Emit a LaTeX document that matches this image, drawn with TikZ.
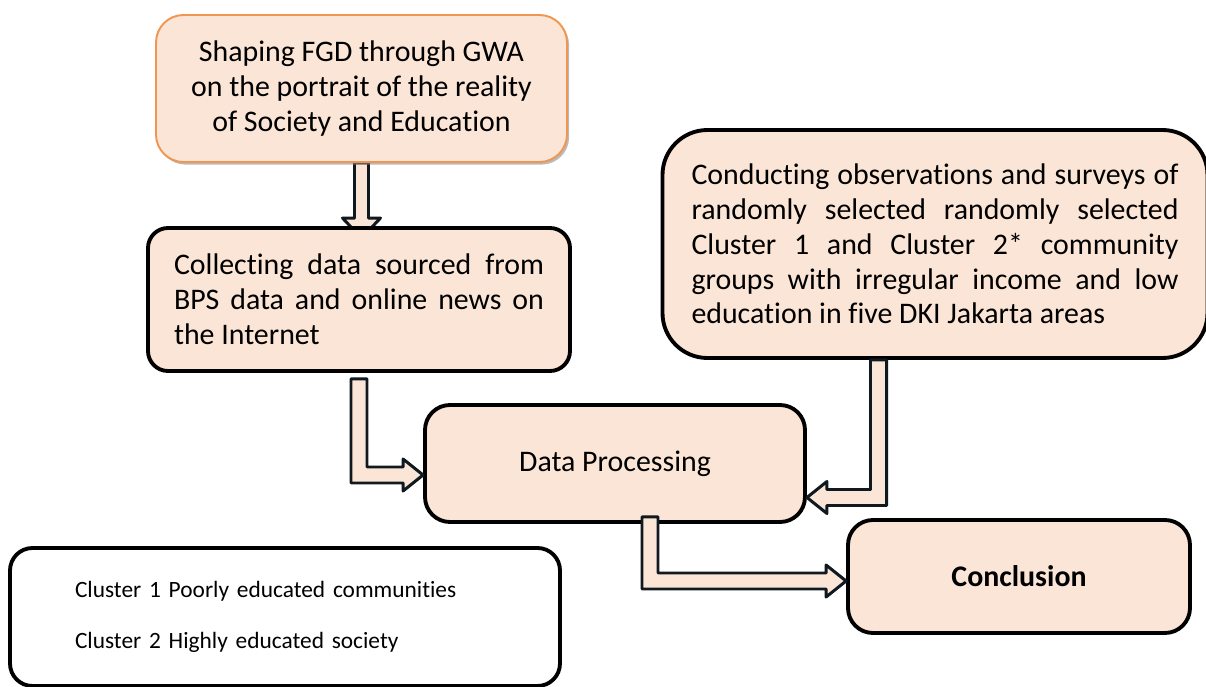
\documentclass[tikz,border=0pt]{standalone}
\usepackage{fontspec}
\setmainfont{Carlito}[Ligatures=NoCommon]
\usetikzlibrary{calc,shadows,backgrounds}

\definecolor{peach}{RGB}{251,229,214}
\definecolor{boxorange}{RGB}{240,150,80}
\definecolor{arrowline}{RGB}{16,24,32}
\hyphenpenalty=10000
\tolerance=9999
\hbadness=10000

\tikzset{
  box/.style={draw=black, line width=2.2pt, fill=peach, rounded corners=0.4cm,
    inner sep=0pt, font=\fontsize{17}{19.8}\selectfont},
  barrow/.style={draw=arrowline, line width=1.7pt, fill=peach, line join=round},
}

%% elbow block arrow: start, tip, 1 = right / -1 = left
\newcommand{\elbowarrow}[3]{%
  \draw[barrow] let \p1=(#1), \p2=(#2) in
    ({\x1-(#3)*0.16cm},\y1) -- ({\x1-(#3)*0.16cm},{\y2-0.16cm})
    -- ({\x2-(#3)*0.4cm},{\y2-0.16cm}) -- ({\x2-(#3)*0.4cm},{\y2-0.32cm})
    -- (\x2,\y2) -- ({\x2-(#3)*0.4cm},{\y2+0.32cm})
    -- ({\x2-(#3)*0.4cm},{\y2+0.16cm}) -- ({\x1+(#3)*0.16cm},{\y2+0.16cm})
    -- ({\x1+(#3)*0.16cm},\y1) -- cycle;
}

\begin{document}
\begin{tikzpicture}
\useasboundingbox (0,0) rectangle (24.12,-13.74);

%% boxes
\node[box, draw=boxorange, line width=1.1pt, rounded corners=0.55cm,
  minimum width=8.22cm, minimum height=2.94cm, align=center,
  drop shadow={shadow xshift=1.2pt, shadow yshift=-1.5pt, fill=black!45, opacity=0.6}]
  (shape) at (7.23,-1.77)
  {Shaping FGD through GWA\\on the portrait of the reality\\of Society and Education};
\node[box, minimum width=8.44cm, minimum height=2.86cm, text width=7.4cm, align=justify]
  (collect) at (7.18,-5.99)
  {Collecting data sourced from\linebreak BPS data and online news on\linebreak
   the Internet};
\node[box, rounded corners=0.9cm, minimum width=10.9cm, minimum height=4.56cm,
  text width=9.74cm, align=justify] (survey) at (18.7,-4.88)
  {Conducting observations and surveys of\linebreak
   randomly selected randomly selected\linebreak
   Cluster 1 and Cluster 2* community\linebreak
   groups with irregular income and low\linebreak
   education in five DKI Jakarta areas};
\node[box, rounded corners=0.5cm, minimum width=7.6cm, minimum height=2.34cm]
  (proc) at (12.3,-9.27) {Data Processing};
\node[box, rounded corners=0.5cm, minimum width=6.84cm, minimum height=2.26cm,
  font=\fontsize{17}{19.8}\selectfont\bfseries] (concl) at (20.38,-11.53) {Conclusion};
\node[box, fill=white, rounded corners=0.45cm, minimum width=11cm, minimum height=2.76cm,
  text width=8.4cm, align=left, font=\fontsize{13.3}{15}\selectfont]
  (legend) at (5.7,-12.34)
  {Cluster 1 Poorly educated communities\\[0.5cm]Cluster 2 Highly educated society};

%% arrows
\begin{scope}[on background layer]
\draw[barrow] let \p1=(shape.south), \p2=($(shape.south |- collect.north)+(0,-0.24)$) in
  ({\x1-0.14cm},\y1) -- ({\x1-0.14cm},{\y2+0.4cm}) -- ({\x1-0.38cm},{\y2+0.4cm})
  -- (\x2,\y2) -- ({\x1+0.38cm},{\y2+0.4cm}) -- ({\x1+0.14cm},{\y2+0.4cm})
  -- ({\x1+0.14cm},\y1) -- cycle;
\end{scope}
\elbowarrow{$(collect.south)+(0,-0.12)$}{$(proc.west)+(0,-0.23)$}{1}
\elbowarrow{$(survey.south)+(-1.13,0)$}{$(proc.east)+(0,-0.68)$}{-1}
\elbowarrow{$(proc.south)+(0.7,0.14)$}{$(concl.west)+(0,-0.09)$}{1}

\end{tikzpicture}
\end{document}
